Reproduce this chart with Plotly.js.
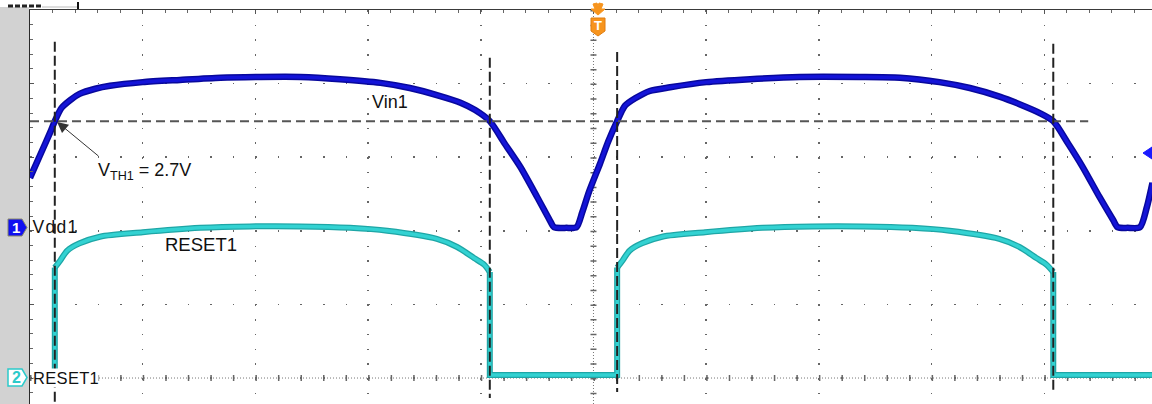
<!DOCTYPE html>
<html>
<head>
<meta charset="utf-8">
<script src="https://cdn.plot.ly/plotly-3.0.1.min.js"></script>
<style>
html,body{margin:0;padding:0;background:#fff;}
#chart{width:1152px;height:404px;}
g.annotation[data-index="4"] text.annotation-text{letter-spacing:1.3px;}
g.annotation[data-index="5"] text.annotation-text{letter-spacing:0.3px;}
</style>
</head>
<body>
<div id="chart"></div>
<script>
// ---- Data (time in horizontal divisions, level in vertical divisions) ----
const vinT = [0.00,0.09,0.18,0.22,0.28,0.36,0.44,0.58,0.71,1.00,1.33,1.69,2.04,2.40,2.75,3.11,3.37,3.64,3.82,3.95,4.08,4.21,4.35,4.50,4.61,4.65,4.76,4.85,4.90,4.96,5.06,5.13,5.21,5.28,5.37,5.50,5.68,6.00,6.39,6.83,7.36,7.72,8.07,8.34,8.61,8.78,8.96,9.08,9.21,9.34,9.49,9.61,9.65,9.74,9.85,9.91,9.96];
const vinV = [2.72,3.03,3.34,3.49,3.67,3.78,3.86,3.93,3.97,4.02,4.05,4.08,4.09,4.09,4.06,4.01,3.94,3.83,3.74,3.64,3.49,3.19,2.87,2.46,2.15,2.05,2.04,2.05,2.25,2.53,2.92,3.21,3.49,3.70,3.80,3.90,3.95,4.02,4.06,4.09,4.09,4.08,4.02,3.94,3.82,3.72,3.60,3.49,3.19,2.87,2.46,2.15,2.05,2.04,2.05,2.32,2.65];

// RESET1: high (curved) portions and the step edges
const resetHigh1T = [0.22,0.27,0.33,0.44,0.62,1.00,1.51,1.95,2.40,2.84,3.17,3.61,3.79,3.94,4.03,4.08];
const resetHigh1V = [1.50,1.60,1.73,1.83,1.92,1.98,2.04,2.06,2.06,2.04,2.00,1.89,1.78,1.63,1.54,1.44];
const resetHigh2T = [5.21,5.26,5.32,5.43,5.61,5.99,6.50,6.94,7.39,7.83,8.16,8.60,8.78,8.93,9.02,9.08];
const resetHigh2V = [1.50,1.60,1.73,1.83,1.92,1.98,2.04,2.06,2.06,2.04,2.00,1.89,1.78,1.63,1.54,1.44];
const resetLowLevel = 0.04;
const resetEdgesT = [0.22, 4.08, 5.21, 9.08];
const resetEndT = 9.96;

// threshold crossings (cursor lines)
const crossT = [0.22, 4.08, 5.21, 9.08];
const crossTop = [4.57, 4.35, 4.43, 4.54];
const crossBottom = [-0.36, -0.27, -0.19, -0.19];
const threshold = 3.49;
const thresholdEnd = 9.39;

const seriesNames = ['Vin1', 'RESET1'];
const labels = {vin: 'Vin1', reset: 'RESET1', vth: 'V<sub>TH1</sub> = 2.7V', ch1: 'Vdd1', ch2: 'RESET1'};

// step outline of RESET1 built from the values above
const resetStepT = [resetEdgesT[0], resetEdgesT[0], null, resetEdgesT[1], resetEdgesT[1], resetEdgesT[2], resetEdgesT[2], null, resetEdgesT[3], resetEdgesT[3], resetEndT];
const resetStepV = [resetLowLevel, resetHigh1V[0], null, resetHigh1V[resetHigh1V.length-1], resetLowLevel, resetLowLevel, resetHigh2V[0], null, resetHigh2V[resetHigh2V.length-1], resetLowLevel, resetLowLevel];

// ---- helpers for decorations outside plot area (pixel -> paper) ----
const L = 30, T = 10, W = 1122, H = 394;
const px = x => (x - L) / W;
const py = y => (T + H - y) / H;
function poly(pts){ return 'M' + pts.map(p => px(p[0]) + ',' + py(p[1])).join('L') + 'Z'; }

const FONT = '"Liberation Sans", Arial, sans-serif';

function resetPair(x, y, shape){
  return [
    {x: x, y: y, type: 'scatter', mode: 'lines', name: seriesNames[1], connectgaps: false,
     line: {color: '#1ea6a6', width: 6, shape: shape, smoothing: 0.8}, hoverinfo: 'skip'},
    {x: x, y: y, type: 'scatter', mode: 'lines', name: seriesNames[1], connectgaps: false,
     line: {color: '#33d2d2', width: 3.5, shape: shape, smoothing: 0.8}, hoverinfo: 'skip'}
  ];
}

const traces = [].concat(
  resetPair(resetStepT, resetStepV, 'linear'),
  resetPair(resetHigh1T, resetHigh1V, 'spline'),
  resetPair(resetHigh2T, resetHigh2V, 'spline'),
  [
    {x: vinT, y: vinV, type: 'scatter', mode: 'lines', name: seriesNames[0],
     line: {color: '#08089c', width: 6.5, shape: 'spline', smoothing: 0.7}, hoverinfo: 'skip'},
    {x: vinT, y: vinV, type: 'scatter', mode: 'lines', name: seriesNames[0],
     line: {color: '#1414d8', width: 3.5, shape: 'spline', smoothing: 0.7}, hoverinfo: 'skip'}
  ]
);

const shapes = [];
// gray strip at left
shapes.push({type:'rect', xref:'paper', yref:'paper', x0:px(0), x1:px(29), y0:py(404), y1:py(7),
  fillcolor:'#d2d2d2', line:{width:0}, layer:'below'});
// clipped text remnants at top-left
shapes.push({type:'line', xref:'paper', yref:'paper', x0:px(8), x1:px(42), y0:py(6), y1:py(6),
  line:{color:'#222', width:3, dash:'5px,2px'}});
shapes.push({type:'line', xref:'paper', yref:'paper', x0:px(42), x1:px(77), y0:py(7), y1:py(7),
  line:{color:'#bbb', width:1}});
shapes.push({type:'line', xref:'paper', yref:'paper', x0:px(78), x1:px(78), y0:py(2), y1:py(9),
  line:{color:'#111', width:2}});
// center axes (dense dotted with tick bars)
shapes.push({type:'line', xref:'x', yref:'y', x0:5, x1:5, y0:5, y1:-0.36,
  line:{color:'#777', width:1, dash:'1px,2px'}, layer:'below'});
shapes.push({type:'line', xref:'x', yref:'y', x0:5, x1:5, y0:5, y1:-0.36,
  line:{color:'#666', width:6, dash:'1.5px,13.22px'}, layer:'below'});
shapes.push({type:'line', xref:'x', yref:'y', x0:0, x1:9.96, y0:0, y1:0,
  line:{color:'#777', width:1, dash:'1px,2px'}, layer:'below'});
shapes.push({type:'line', xref:'x', yref:'y', x0:0, x1:9.96, y0:0, y1:0,
  line:{color:'#666', width:6, dash:'1.5px,21.04px'}, layer:'below'});
// threshold line
shapes.push({type:'line', xref:'x', yref:'y', x0:0, x1:thresholdEnd, y0:threshold, y1:threshold,
  line:{color:'#555', width:2, dash:'9px,5px'}, layer:'above'});
// vertical cursor lines
crossT.forEach((t, i) => {
  shapes.push({type:'line', xref:'x', yref:'y', x0:t, x1:t, y0:crossTop[i], y1:crossBottom[i],
    line:{color:'#222', width:2, dash:'10px,4px'}, layer:'above'});
});
// channel 1 marker
shapes.push({type:'path', xref:'paper', yref:'paper',
  path: poly([[8,219],[22,219],[27,227.5],[22,236],[8,236]]),
  fillcolor:'#1010f0', line:{color:'#8a8a6a', width:1}});
// channel 2 marker
shapes.push({type:'path', xref:'paper', yref:'paper',
  path: poly([[8,369],[22,369],[27,377.5],[22,386],[8,386]]),
  fillcolor:'#ffffff', line:{color:'#2ccaca', width:1.5}});
// trigger marker
shapes.push({type:'path', xref:'paper', yref:'paper',
  path: poly([[591,18],[605,18],[605,31],[598,36],[591,31]]),
  fillcolor:'#f7941d', line:{color:'#e07d10', width:1}});
shapes.push({type:'path', xref:'paper', yref:'paper',
  path: poly([[591,9],[605,9],[598,15]]),
  fillcolor:'#f7941d', line:{color:'#f7941d', width:1}});
shapes.push({type:'path', xref:'paper', yref:'paper',
  path: poly([[593,4],[597,3],[598,6],[599,3],[603,4],[601,9],[595,9]]),
  fillcolor:'#f7941d', line:{color:'#f7941d', width:1}});
// channel 1 level marker at right edge
shapes.push({type:'path', xref:'paper', yref:'paper',
  path: poly([[1143,153],[1152,147],[1152,159]]),
  fillcolor:'#1a1aff', line:{color:'#1a1aff', width:1}});

const annotations = [
  {x: 3.19, y: 3.75, xref:'x', yref:'y', text: labels.vin, showarrow:false, xanchor:'center', yanchor:'middle',
   font:{family:FONT, size:18, color:'#111'}},
  {x: 1.52, y: 1.82, xref:'x', yref:'y', text: labels.reset, showarrow:false, xanchor:'center', yanchor:'middle',
   font:{family:FONT, size:18.5, color:'#111'}},
  {x: 0.59, y: 2.81, xref:'x', yref:'y', text: labels.vth, showarrow:false, xanchor:'left', yanchor:'middle',
   font:{family:FONT, size:18, color:'#111'}},
  {x: 0.24, y: 3.48, xref:'x', yref:'y', ax: 0.62, ay: 3.00, axref:'x', ayref:'y',
   text: '', showarrow:true, arrowhead:2, arrowsize:2.2, arrowwidth:1, arrowcolor:'#333', standoff:0},
  {x: 0.027, y: 2.05, xref:'x', yref:'y', text: labels.ch1, showarrow:false, xanchor:'left', yanchor:'middle',
   font:{family:FONT, size:17.5, color:'#111'}},
  {x: 0.027, y: 0.0, xref:'x', yref:'y', text: labels.ch2, showarrow:false, xanchor:'left', yanchor:'middle',
   bgcolor:'#ffffff', borderpad:0,
   font:{family:FONT, size:16.5, color:'#111'}},
  {x: px(16), y: py(227.5), xref:'paper', yref:'paper', text:'<b>1</b>', showarrow:false,
   xanchor:'center', yanchor:'middle', font:{family:FONT, size:15, color:'#ffffff'}},
  {x: px(16), y: py(377.5), xref:'paper', yref:'paper', text:'<b>2</b>', showarrow:false,
   xanchor:'center', yanchor:'middle', font:{family:FONT, size:16, color:'#2ccaca'}},
  {x: px(598), y: py(25.5), xref:'paper', yref:'paper', text:'<b>T</b>', showarrow:false,
   xanchor:'center', yanchor:'middle', font:{family:FONT, size:13, color:'#ffffff'}}
];

const layout = {
  width: 1152, height: 404,
  margin: {l: L, r: 0, t: T, b: 0, pad: 0},
  paper_bgcolor: '#ffffff', plot_bgcolor: '#ffffff',
  showlegend: false,
  xaxis: {range: [0, 9.956], side: 'top', showline: true, linecolor: '#3a3a3a', linewidth: 1.5,
    ticks: 'inside', ticklen: 4, tickcolor: '#555', tickwidth: 1, dtick: 1, tick0: 0,
    showticklabels: false, showgrid: true, gridcolor: '#666', gridwidth: 1.5,
    griddash: '1.5px,13.22px', zeroline: false, fixedrange: true,
    minor: {dtick: 0.2, ticks: 'inside', ticklen: 3, tickcolor: '#666', showgrid: false}},
  yaxis: {range: [-0.353, 5.0], showline: true, linecolor: '#2a2a2a', linewidth: 1.5,
    ticks: 'inside', ticklen: 4, tickcolor: '#555', tickwidth: 1, dtick: 1, tick0: 0,
    showticklabels: false, showgrid: true, gridcolor: '#666', gridwidth: 1.5,
    griddash: '1.5px,21.04px', zeroline: false, fixedrange: true,
    minor: {dtick: 0.2, ticks: 'inside', ticklen: 3, tickcolor: '#666', showgrid: false}},
  shapes: shapes,
  annotations: annotations
};

Plotly.newPlot('chart', traces, layout, {staticPlot: true, displayModeBar: false});
</script>
</body>
</html>
